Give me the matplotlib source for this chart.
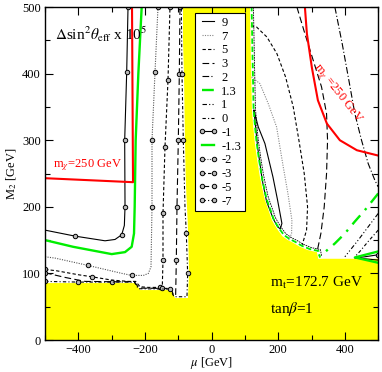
import numpy as np
import matplotlib
matplotlib.use("Agg")
import matplotlib.pyplot as plt
import matplotlib.transforms as mtransforms

plt.rcParams['font.family'] = ['Liberation Serif', 'DejaVu Serif']
plt.rcParams['mathtext.fontset'] = 'stix'

# excluded (yellow) region boundary, (mu, M2) in GeV
excl_mu = [-500, -500, -228, -215, -120, -110, -71, -68, -70, -72, -76, -78, -80, -83, -86, -86,
           115, 117, 121, 125, 130, 137, 145, 152, 160, 170, 181, 190, 199, 212, 229, 245, 265,
           289, 316, 320, 400, 500, 500]
excl_m2 = [0, 85.5, 85.5, 75, 75, 63, 63, 100, 150, 180, 220, 250, 300, 400, 450, 500,
           500, 445, 345, 320, 295, 270, 245, 228, 210, 196, 180, 172, 165, 156, 150, 146, 140,
           135, 132, 122, 122, 122, 0]

# negative contours (left of the band)
m1_mu = [-251, -255, -261, -260, -262, -270, -290, -320, -410, -500]
m1_m2 = [500, 402, 300, 200, 172, 158, 151, 149, 156, 165]
m13_mu = [-210, -220, -228, -231, -233, -240, -260, -300, -416, -500]
m13_m2 = [500, 400, 300, 200, 160, 140, 132, 129, 140, 150]
m2_mu = [-161, -170, -179, -179, -182, -190, -205, -240, -269, -371, -470, -500]
m2_m2 = [500, 402, 300, 200, 110, 100, 97, 97, 100, 112, 123, 125]
m3_mu = [-500, -466, -400, -360, -300, -250, -228, -215, -190, -155, -148, -146, -146, -140, -131, -125]
m3_m2 = [106, 104, 98, 95, 90, 88, 88, 80, 79, 79, 82, 120, 190, 290, 390, 500]
m5_mu = [-500, -440, -380, -300, -232, -218, -150, -122, -114, -108, -106, -104, -100, -97, -95]
m5_m2 = [101, 94, 88, 87.5, 87.5, 78, 77.5, 77.5, 67, 67, 120, 200, 300, 400, 500]
m7_mu = [-500, -400, -232, -220, -125, -113, -74, -72, -76, -80, -85, -89, -91]
m7_m2 = [88, 87, 87, 77, 76.5, 65, 65, 100, 160, 200, 300, 400, 500]

# positive contours (right of the band)
p9_mu = [127, 140, 160, 172, 184, 198, 211, 206, 198, 185, 165, 152, 138, 130, 127]
p9_m2 = [345, 320, 295, 270, 245, 210, 175, 167, 170, 182, 208, 240, 290, 330, 345]
p7_mu = [120, 145, 170, 195, 205, 215, 229, 241, 240, 232]
p7_m2 = [395, 385, 355, 320, 290, 260, 220, 180, 160, 150]
p5_mu = [118, 135, 166, 196, 222, 245, 262, 278, 288, 285, 272]
p5_m2 = [472, 470, 455, 430, 395, 350, 300, 250, 200, 165, 143]
p3_mu = [256, 280, 305, 330, 345, 348, 345, 338, 328, 318]
p3_m2 = [500, 460, 420, 380, 340, 300, 250, 200, 160, 136]
p2_mu = [370, 392, 412, 430, 450, 470, 490, 500]
p2_m2 = [500, 445, 390, 340, 300, 265, 240, 230]
p13_mu = [500, 460, 430, 400, 370, 340, 322]
p13_m2 = [220, 195, 178, 160, 145, 132, 126]
p1_mu = [500, 470, 440, 400]
p1_m2 = [190, 170, 150, 125]
p0_mu = [500, 470, 445, 430]
p0_m2 = [165, 148, 133, 125]
r_m1_mu = [500, 460, 430, 460, 500]
r_m1_m2 = [128, 125, 123, 122, 120]
r_m13_mu = [500, 430, 500]
r_m13_m2 = [133, 124, 116]

# m_chi = 250 GeV lines
chi_l_mu = [-500, -236, -239]
chi_l_m2 = [243, 237, 501]
chi_r_mu = [280, 286, 301, 319, 346, 385, 436, 500]
chi_r_m2 = [500, 460, 409, 360, 325, 300, 285, 277]

fig = plt.figure(figsize=(3.82, 3.72), dpi=100)
ax = fig.add_axes([0.118, 0.086, 0.872, 0.895])

ax.fill(excl_mu, excl_m2, color='#ffff00', lw=0, zorder=1)

mk = dict(marker='o', ms=3.2, mfc='#bbbbbb', mec='black', mew=0.7, markevery=0.12)
lw = 0.8
gr = '#00ee00'

h = {}
h['9'], = ax.plot(p9_mu, p9_m2, color='black', lw=lw, ls='-')
h['7'], = ax.plot(p7_mu, p7_m2, color='#888888', lw=lw, ls=(0, (1, 1.2)))
h['5'], = ax.plot(p5_mu, p5_m2, color='black', lw=lw, ls=(0, (3, 2)))
h['3'], = ax.plot(p3_mu, p3_m2, color='black', lw=lw, ls=(0, (6, 3)))
h['2'], = ax.plot(p2_mu, p2_m2, color='black', lw=lw, ls=(0, (6, 2, 1, 2)))
h['1.3'], = ax.plot(p13_mu, p13_m2, color=gr, lw=1.7, ls=(0, (5, 3, 1, 3)))
h['1'], = ax.plot(p1_mu, p1_m2, color='black', lw=lw, ls=(0, (4, 2, 1, 2, 1, 2)))
h['0'], = ax.plot(p0_mu, p0_m2, color='black', lw=lw, ls=(0, (3, 2, 1, 2)))
h['-1'], = ax.plot(m1_mu, m1_m2, color='black', lw=lw, ls='-', **mk)
h['-1.3'], = ax.plot(m13_mu, m13_m2, color=gr, lw=1.7, ls='-')
h['-2'], = ax.plot(m2_mu, m2_m2, color='#555555', lw=lw, ls=(0, (1, 1.2)), **mk)
h['-3'], = ax.plot(m3_mu, m3_m2, color='black', lw=lw, ls=(0, (3, 2)), **mk)
h['-5'], = ax.plot(m5_mu, m5_m2, color='black', lw=lw, ls=(0, (6, 3)), **mk)
h['-7'], = ax.plot(m7_mu, m7_m2, color='black', lw=lw, ls=(0, (3, 2, 1, 2)), **mk)

ax.plot(r_m1_mu, r_m1_m2, color='black', lw=lw, marker='o', ms=3.2, mfc='#bbbbbb', mec='black', mew=0.7, markevery=[0])
ax.plot(r_m13_mu, r_m13_m2, color=gr, lw=1.7)

# contours hugging the jagged edge of the excluded band
edge = slice(16, 36)
off = mtransforms.offset_copy(ax.transData, fig=fig, x=1.2, y=0.8, units='points')
ax.plot(excl_mu[edge], excl_m2[edge], color=gr, lw=1.3, ls=(0, (3, 1.5)), transform=off, zorder=3)
off2 = mtransforms.offset_copy(ax.transData, fig=fig, x=2.5, y=1.8, units='points')
ax.plot(excl_mu[edge], excl_m2[edge], color='black', lw=0.6, ls=(0, (2, 1)), transform=off2, zorder=3)

ax.plot(chi_l_mu, chi_l_m2, color='red', lw=1.5, zorder=4)
ax.plot(chi_r_mu, chi_r_m2, color='red', lw=1.5, zorder=4)

ax.text(-476, 259, r'm$_\chi$=250 GeV', color='red', fontsize=9)
ax.text(378, 370, r'm$_\chi$ =250 GeV', color='red', fontsize=9, rotation=-52,
        ha='center', va='center')
ax.text(-470, 450, r'$\Delta$sin$^2\theta_{\rm eff}$ x 10$^5$', fontsize=11)
ax.text(175, 80, r'm$_{\rm t}$=172.7 GeV', fontsize=11)
ax.text(175, 40, r'tan$\beta$=1', fontsize=11)

order = ['9', '7', '5', '3', '2', '1.3', '1', '0', '-1', '-1.3', '-2', '-3', '-5', '-7']
leg = ax.legend([h[k] for k in order], order, loc='upper left', bbox_to_anchor=(0.45, 0.982),
                borderaxespad=0, fontsize=9, numpoints=2, handlelength=1.5, handletextpad=0.3,
                labelspacing=0.14, borderpad=0.3, fancybox=False, framealpha=1)
leg.get_frame().set_edgecolor('black')
leg.get_frame().set_linewidth(0.8)
for l in leg.get_lines():
    l.set_markevery(None)
leg.set_zorder(5)

ax.set_xlim(-500, 500)
ax.set_ylim(0, 500)
ax.set_xticks([-400, -200, 0, 200, 400])
ax.set_xticks(np.arange(-500, 501, 100), minor=True)
ax.set_yticks(np.arange(0, 501, 100))
ax.set_yticks(np.arange(0, 501, 50), minor=True)
ax.tick_params(which='both', direction='in', top=True, right=True, labelsize=9)
ax.tick_params(which='major', length=5.5, width=0.8, pad=3)
ax.tick_params(which='minor', length=3.5, width=0.8)
ax.set_xlabel(r'$\mu$ [GeV]', fontsize=9, labelpad=-1)
ax.set_ylabel(r'M$_2$ [GeV]', fontsize=9, labelpad=2)
for s in ax.spines.values():
    s.set_linewidth(1.0)
    s.set_zorder(6)

fig.savefig('out.png', dpi=100)
